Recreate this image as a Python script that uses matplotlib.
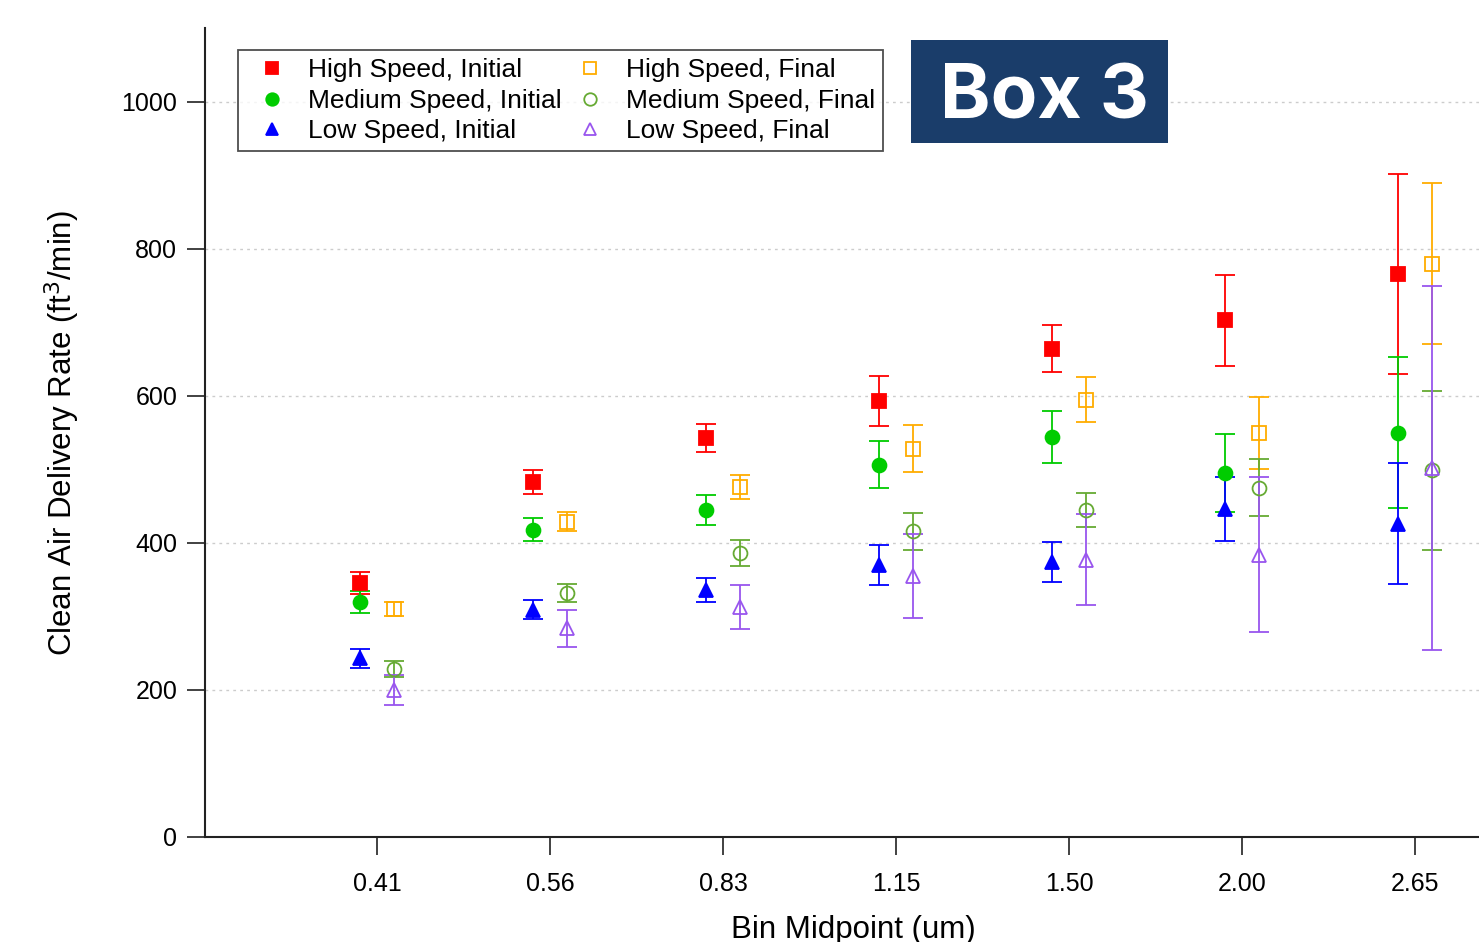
import numpy as np
import matplotlib
matplotlib.use('Agg')
import matplotlib.pyplot as plt
from matplotlib.patches import Rectangle

plt.rcParams['font.family'] = ['Liberation Sans', 'DejaVu Sans']

# bin midpoints (um)
bins = ['0.41', '0.56', '0.83', '1.15', '1.50', '2.00', '2.65']

# CADR means and +/- errors, ft3/min
high_init = [345, 483, 543, 593, 664, 703, 766]
high_init_err = [15, 16, 19, 34, 32, 62, 136]
med_init = [320, 418, 445, 506, 544, 495, 550]
med_init_err = [15, 16, 20, 32, 35, 53, 103]
low_init = [243, 309, 336, 370, 374, 446, 426]
low_init_err = [13, 13, 16, 27, 27, 44, 82]

high_final = [310, 429, 476, 528, 595, 550, 780]
high_final_err = [10, 13, 16, 32, 30, 49, 110]
med_final = [228, 332, 386, 416, 445, 475, 499]
med_final_err = [11, 12, 18, 25, 23, 39, 108]
low_final = [200, 284, 313, 355, 377, 384, 502]
low_final_err = [20, 25, 30, 57, 62, 105, 248]

x = np.arange(len(bins))
off = 0.1

fig = plt.figure(figsize=(14.79, 9.42), dpi=100)
ax = fig.add_axes([0.1386, 0.1115, 0.8614, 0.8585])

series = [
    (high_init, high_init_err, -off, 's', '#ff0000', True, 'High Speed, Initial'),
    (med_init, med_init_err, -off, 'o', '#00cc00', True, 'Medium Speed, Initial'),
    (low_init, low_init_err, -off, '^', '#0000ff', True, 'Low Speed, Initial'),
    (high_final, high_final_err, off, 's', '#ffac00', False, 'High Speed, Final'),
    (med_final, med_final_err, off, 'o', '#66aa33', False, 'Medium Speed, Final'),
    (low_final, low_final_err, off, '^', '#9955ee', False, 'Low Speed, Final'),
]

handles = []
for vals, errs, dx, mk, col, filled, lab in series:
    h = ax.errorbar(x + dx, vals, yerr=errs, fmt=mk, color=col, ecolor=col,
                    mfc=col if filled else 'none', mec=col, ms=10, mew=1.3,
                    elinewidth=1.3, capsize=7.5, capthick=1.3, label=lab)
    handles.append(h)

ax.set_xlim(-0.995, 6.37)
ax.set_ylim(0, 1100)
ax.set_xticks(x)
ax.set_xticklabels(bins)
ax.set_yticks([0, 200, 400, 600, 800, 1000])
ax.tick_params(axis='both', labelsize=18, length=13, width=1.3, color='#333333')
ax.tick_params(axis='y', pad=7)
ax.tick_params(axis='x', pad=12)
ax.yaxis.grid(True, linestyle=(0, (2, 3)), color='#cccccc', linewidth=1)
ax.set_axisbelow(True)

for s in ['top', 'right']:
    ax.spines[s].set_visible(False)
for s in ['left', 'bottom']:
    ax.spines[s].set_linewidth(1.5)
    ax.spines[s].set_color('#222222')

ax.set_ylabel('Clean Air Delivery Rate (ft$^3$/min)', fontsize=22.5, labelpad=28)
ax.set_xlabel('Bin Midpoint (um)', fontsize=22.5)
ax.xaxis.set_label_coords(0.5086, -0.096)

# legend markers only, no error bars
leg_h = [plt.Line2D([], [], ls='none', marker=h[0].get_marker(), color=h[0].get_color(),
                    mfc=h[0].get_markerfacecolor(), mec=h[0].get_color(), ms=9, mew=1.3)
         for h in handles]
leg = ax.legend(leg_h, [h.get_label() for h in handles], ncol=2, loc='upper left',
                bbox_to_anchor=(0.0259, 0.9728), fontsize=19, frameon=True, fancybox=False,
                edgecolor='#222222', handlelength=2.0, handletextpad=0.35, columnspacing=0.08,
                labelspacing=0.25, borderpad=0.3, borderaxespad=0)
leg.get_frame().set_linewidth(1.3)

# "Box 3" badge
fig.patches.append(Rectangle((911 / 1479, 1 - 143 / 942), 257 / 1479, 103 / 942,
                             transform=fig.transFigure, facecolor='#1a3d6a', edgecolor='none'))
fig.text(1044 / 1479, 1 - 99 / 942, 'Box 3', color='white', fontsize=55, fontweight='bold',
         ha='center', va='center', family=['Inter', 'DejaVu Sans'])

fig.savefig('out.png', dpi=100)
